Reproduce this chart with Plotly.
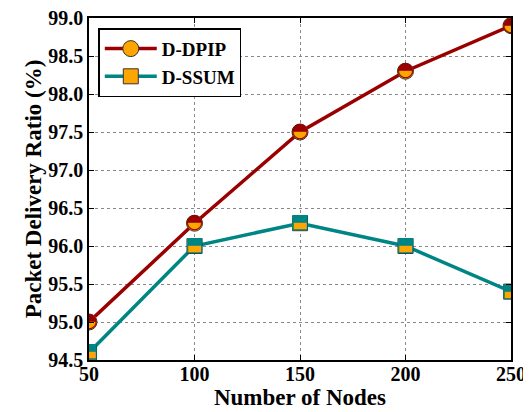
import plotly.graph_objects as go

nodes = [50, 100, 150, 200, 250]
dpip = [95.0, 96.3, 97.5, 98.3, 98.9]
ssum = [94.6, 96.0, 96.3, 96.0, 95.4]
y_ticks = [94.5, 95.0, 95.5, 96.0, 96.5, 97.0, 97.5, 98.0, 98.5, 99.0]

FONT = "Liberation Serif"
RED = "#9b0000"
TEAL = "#008585"
ORANGE = "#ffa500"

fig = go.Figure()
fig.add_trace(go.Scatter(
    x=nodes, y=dpip, name="<b>D-DPIP</b>", mode="lines+markers",
    line=dict(color=RED, width=3.5),
    marker=dict(symbol="circle", size=16, color=ORANGE,
                line=dict(color="#333333", width=1)),
))
fig.add_trace(go.Scatter(
    x=nodes, y=dpip, mode="text", text=["◓"] * len(nodes), showlegend=False,
    textfont=dict(family="DejaVu Sans", size=20, color=RED), textposition="middle center",
    hoverinfo="skip",
))
fig.add_trace(go.Scatter(
    x=nodes, y=ssum, name="<b>D-SSUM</b>", mode="lines+markers",
    line=dict(color=TEAL, width=3.5),
    marker=dict(symbol="square", size=15, color=ORANGE,
                line=dict(color="#333333", width=1)),
))
fig.add_trace(go.Scatter(
    x=nodes, y=ssum, mode="text", text=["⬒"] * len(nodes), showlegend=False,
    textfont=dict(family="DejaVu Sans", size=20, color=TEAL), textposition="middle center",
    hoverinfo="skip",
))

axis_common = dict(
    showline=True, linecolor="black", linewidth=1.5, mirror="ticks",
    ticks="inside", ticklen=5, tickcolor="black",
    showgrid=True, gridcolor="#888888", griddash="dot", gridwidth=1,
    zeroline=False, automargin=False, ticklabeloverflow="allow",
    tickfont=dict(family=FONT, size=20, color="black"),
)

fig.update_xaxes(
    range=[50, 250], tickvals=nodes, ticktext=[f"<b>{v}</b>" for v in nodes],
    ticklabelstandoff=-5,
    title=dict(text="<b>Number of Nodes</b>", font=dict(family=FONT, size=23, color="black"), standoff=0),
    **axis_common,
)
fig.update_yaxes(
    range=[94.5, 99.0], tickvals=y_ticks, ticktext=[f"<b>{v:.1f}</b>" for v in y_ticks],
    title=dict(text="<b>Packet Delivery Ratio (%)</b>", font=dict(family=FONT, size=23, color="black"), standoff=0),
    **axis_common,
)

# the page body adds an 8px offset; size/margins chosen so the plot area lands at x 89..511, y 18..360
fig.update_layout(
    width=523, height=404,
    margin=dict(l=81, r=20, t=10, b=52),
    paper_bgcolor="white", plot_bgcolor="white",
    showlegend=True,
    legend=dict(
        x=0.022, y=0.97, xanchor="left", yanchor="top",
        bgcolor="white", bordercolor="black", borderwidth=1.5,
        font=dict(family=FONT, size=19, color="black"),
        itemwidth=52,
    ),
)

fig.write_html("out.html")
